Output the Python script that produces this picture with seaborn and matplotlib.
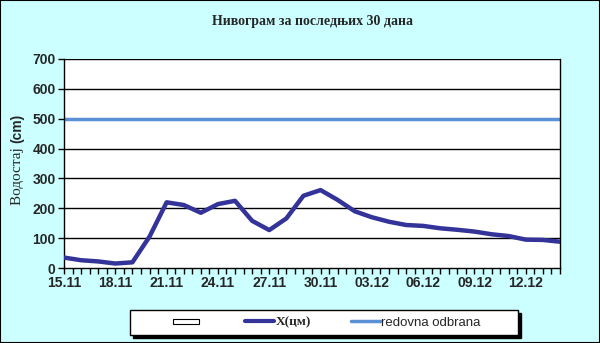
import matplotlib
matplotlib.use("Agg")
import matplotlib.pyplot as plt
import seaborn as sns
import pandas as pd
import numpy as np
from matplotlib.patches import Rectangle
from matplotlib.lines import Line2D
from matplotlib.legend_handler import HandlerPatch

# ---- data ----
dates = ["15.11", "16.11", "17.11", "18.11", "19.11", "20.11", "21.11", "22.11",
         "23.11", "24.11", "25.11", "26.11", "27.11", "28.11", "29.11", "30.11",
         "01.12", "02.12", "03.12", "04.12", "05.12", "06.12", "07.12", "08.12",
         "09.12", "10.12", "11.12", "12.12", "13.12", "14.12"]
vodostaj = [35, 26, 22, 15, 19, 105, 220, 211, 185, 214, 225, 158, 127, 166, 242,
            261, 228, 190, 170, 155, 144, 141, 133, 128, 122, 113, 107, 95, 94, 88]
redovna_odbrana = 500
y_ticks = [0, 100, 200, 300, 400, 500, 600, 700]
title = "Нивограм за последњих 30 дана"
ylabel_a = "Водостај "
ylabel_b = "(cm)"
legend_labels = ["X(цм)", "redovna odbrana"]

df = pd.DataFrame({"day": np.arange(len(dates)), "date": dates, "level": vodostaj})

sns.set_style("white")
plt.rcParams["font.family"] = ["Liberation Sans", "DejaVu Sans"]

bg = "#CCFFFF"
navy = "#333399"
lblue = "#5B8FD6"

fig = plt.figure(figsize=(6.0, 3.43), dpi=100, facecolor=bg)
fig.patches.append(Rectangle((0, 0), 1, 1, transform=fig.transFigure, fill=False,
                             edgecolor="black", linewidth=1.5))
ax = fig.add_axes([64/600, 1-268/343, (560-64)/600, (268-59)/343])
ax.set_facecolor("white")

for v in y_ticks[1:]:
    ax.axhline(v, color="black", linewidth=1.0, zorder=1)
ax.axhline(redovna_odbrana, color=lblue, linewidth=2.5, zorder=2)
sns.lineplot(data=df, x="day", y="level", ax=ax, color=navy, linewidth=3.2,
             zorder=3, legend=False)

n = len(dates)
ax.set_xlim(0, n - 1)
ax.set_ylim(0, 700)
ax.set_xticks(df["day"][::3])
ax.set_xticklabels(df["date"][::3])
ax.set_xticks(np.arange(0, n - 1 + 0.01, 0.5), minor=True)
ax.set_yticks(y_ticks)
ax.set_yticklabels([str(v) for v in y_ticks])
ax.tick_params(axis="both", which="both", direction="out", length=4, width=1,
               color="black", labelsize=10, pad=2)
for lab in ax.get_xticklabels() + ax.get_yticklabels():
    lab.set_fontweight("bold")
ax.xaxis.set_ticks_position("bottom")
ax.yaxis.set_ticks_position("left")
ax.set_xlabel("")
ax.set_ylabel("")
for s in ["left", "bottom", "right"]:
    ax.spines[s].set_visible(True)
    ax.spines[s].set_color("black")
    ax.spines[s].set_linewidth(1.0)
ax.spines["top"].set_visible(False)

fig.text(312/600, 1-22/343, title, ha="center", va="center",
         fontfamily="Liberation Serif", fontweight="bold", fontsize=10)

# y label: serif word + bold sans unit
ta = fig.text(17/600, 1-205/343, ylabel_a, ha="center", va="bottom", rotation=90,
              fontfamily="Liberation Serif", fontsize=11)
fig.canvas.draw()
bb = ta.get_window_extent()
top_px = bb.y1
fig.text(17/600, top_px/fig.bbox.height, ylabel_b, ha="center", va="bottom", rotation=90,
         fontfamily="Liberation Sans", fontweight="bold", fontsize=10)

# legend frame with shadow
lx0, ly0, lw, lh = 130/600, 8/343, 388/600, 25/343
sh = 3
fig.patches.append(Rectangle((lx0 + sh/600, ly0 - sh/343), lw, lh, transform=fig.transFigure,
                             facecolor="black", edgecolor="black", zorder=5))
fig.patches.append(Rectangle((lx0, ly0), lw, lh, transform=fig.transFigure,
                             facecolor="white", edgecolor="black", linewidth=1.0, zorder=6))


def small_rect(legend, orig_handle, xdescent, ydescent, width, height, fontsize):
    return Rectangle((-xdescent + width*0.05, -ydescent + height*0.2), width*0.9, height*0.55)


handles = [Rectangle((0, 0), 1, 1, facecolor="white", edgecolor="black", linewidth=0.8),
           Line2D([], [], color=navy, linewidth=3),
           Line2D([], [], color=lblue, linewidth=2.5)]
leg = fig.legend(handles, [" ", legend_labels[0], legend_labels[1]], ncol=3,
                 loc="center", bbox_to_anchor=(lx0 + lw/2 + 2/600, ly0 + lh/2),
                 frameon=False, fontsize=9.5, handlelength=2.2,
                 handletextpad=0.1, columnspacing=3.0,
                 handler_map={Rectangle: HandlerPatch(patch_func=small_rect)})
leg.set_zorder(7)
t = leg.get_texts()
t[1].set_fontfamily("Liberation Serif")
t[1].set_fontweight("bold")

fig.savefig("out.png", dpi=100, facecolor=bg)
